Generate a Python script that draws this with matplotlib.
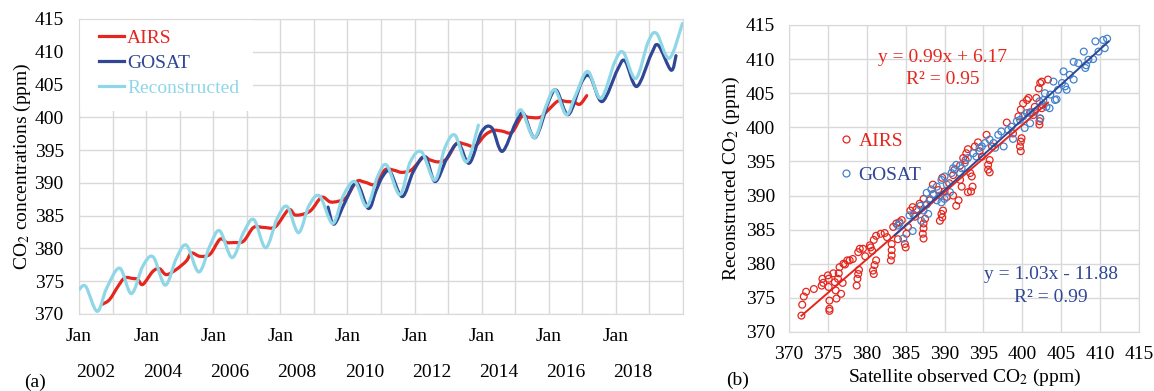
import numpy as np
import matplotlib
matplotlib.use('Agg')
import matplotlib.pyplot as plt
from matplotlib.path import Path
from matplotlib.patches import PathPatch, Rectangle
from matplotlib.lines import Line2D

plt.rcParams['font.family'] = ['Liberation Serif', 'DejaVu Serif']
plt.rcParams['mathtext.fontset'] = 'stix'

RED = '#e4261e'
NAVY = '#2f4794'
CYAN = '#8fd7e7'
LBLUE = '#4382cc'
GRID = '#d9d9d9'
FS = 14

# === time series (decimal year, ppm) ===
airs_t = [2002.70, 2002.91, 2003.16, 2003.36, 2003.61, 2003.75, 2003.90, 2004.20, 2004.40, 2004.60,
          2004.90, 2005.20, 2005.35, 2005.60, 2005.90, 2006.20, 2006.40, 2006.60, 2006.90, 2007.20,
          2007.50, 2007.85, 2008.24, 2008.44, 2008.73, 2008.93, 2009.23, 2009.48, 2009.73, 2009.97,
          2010.27, 2010.52, 2010.82, 2011.12, 2011.40, 2011.62, 2011.91, 2012.26, 2012.46, 2012.71,
          2012.96, 2013.25, 2013.50, 2013.80, 2014.10, 2014.35, 2014.60, 2014.90, 2015.19, 2015.40,
          2015.74, 2015.98, 2016.28, 2016.53, 2016.75, 2016.93, 2017.13]
airs_v = [371.5, 372.2, 374.2, 375.5, 375.4, 375.3, 374.5, 376.5, 376.9, 376.0,
          376.8, 378.1, 379.3, 378.8, 379.1, 381.4, 380.9, 380.9, 381.1, 383.2,
          383.2, 383.3, 385.9, 385.1, 385.3, 385.9, 387.8, 387.1, 387.2, 387.8,
          390.2, 390.1, 389.8, 392.0, 391.9, 391.6, 392.0, 393.9, 393.5, 393.2,
          393.7, 396.0, 395.9, 395.6, 397.3, 398.0, 397.9, 397.7, 400.1, 400.0,
          400.0, 401.1, 402.5, 402.4, 402.3, 402.0, 403.3]

gosat_t = [2009.42, 2009.60, 2009.93, 2010.27, 2010.62, 2010.85, 2011.05, 2011.27, 2011.63, 2011.96,
           2012.31, 2012.61, 2012.96, 2013.30, 2013.63, 2014.00, 2014.30, 2014.61, 2015.00, 2015.24,
           2015.59, 2016.00, 2016.23, 2016.58, 2016.98, 2017.23, 2017.59, 2018.05, 2018.27, 2018.62,
           2019.05, 2019.26, 2019.64, 2019.79]
gosat_v = [386.3, 383.7, 387.1, 390.0, 386.1, 388.8, 391.0, 391.7, 387.9, 391.7,
           394.0, 390.2, 393.7, 396.0, 393.0, 397.8, 398.4, 394.8, 399.0, 400.6,
           396.9, 402.5, 404.1, 400.4, 405.4, 406.2, 402.4, 407.3, 408.6, 404.7,
           409.6, 411.0, 407.2, 409.4]

# NaN marks the break in the reconstruction around 2014
recon_t = [2002.00, 2002.20, 2002.54, 2002.82, 2003.21, 2003.56, 2003.90, 2004.21, 2004.57, 2004.90,
           2005.20, 2005.57, 2005.90, 2006.19, 2006.56, 2006.90, 2007.21, 2007.56, 2007.90, 2008.20,
           2008.54, 2008.85, 2009.17, 2009.56, 2009.87, 2010.22, 2010.57, 2010.90, 2011.17, 2011.56,
           2011.87, 2012.21, 2012.60, 2012.90, 2013.20, 2013.55, 2013.90, np.nan,
           2015.04, 2015.20, 2015.57, 2015.90, 2016.18, 2016.52, 2016.80, 2017.16, 2017.55, 2017.97,
           2018.22, 2018.59, 2018.96, 2019.21, 2019.59, 2019.98]
recon_v = [373.7, 374.2, 370.4, 373.9, 377.0, 373.1, 377.3, 378.7, 374.4, 378.5,
           380.5, 376.4, 380.4, 382.7, 378.6, 382.4, 384.4, 380.1, 384.5, 386.4,
           382.4, 386.5, 388.0, 383.8, 388.0, 390.2, 386.4, 391.0, 392.7, 388.2,
           393.2, 394.7, 390.4, 395.3, 397.3, 393.2, 398.8, np.nan,
           400.3, 401.0, 396.9, 401.5, 404.2, 400.4, 403.4, 407.0, 402.9, 408.5,
           409.9, 405.9, 411.5, 412.8, 409.0, 414.3]

# === scatter: satellite observed vs reconstructed (ppm) ===
airs_obs = [371.6, 371.7, 371.9, 372.2, 373.2, 374.2, 374.3, 374.4, 375.0, 375.1, 375.1, 375.2, 375.2, 375.2,
            375.7, 375.9, 376.0, 376.1, 376.3, 376.4, 376.5, 376.7, 376.9, 377.0, 377.5, 377.8, 378.2,
            378.7, 378.8, 378.9, 379.0, 378.9, 379.1, 379.5, 380.4, 380.5, 380.7, 380.8, 380.9, 381.0,
            381.2, 380.9, 381.2, 381.8, 382.3, 383.1, 383.2, 383.2, 383.2, 383.4, 383.8, 384.2, 384.9,
            385.0, 385.1, 385.3, 385.6, 385.9, 386.4, 387.2, 387.3, 387.3, 387.3, 387.5, 387.7, 388.1,
            389.4, 389.6, 389.7, 389.8, 390.3, 391.1, 391.5, 391.8, 393.0, 387.3, 388.5, 389.7, 390.0,
            391.1, 391.3, 392.0, 392.2, 392.0, 392.4, 392.7, 392.8, 393.0, 393.3, 393.5, 393.6, 393.4,
            393.9, 394.3, 394.5, 394.8, 395.4, 395.6, 395.6, 395.8, 395.8, 396.1, 398.0, 398.8, 399.7,
            399.8, 399.9, 399.8, 399.5, 399.8, 400.1, 400.6, 400.8, 401.0, 401.4, 401.6, 401.8, 402.1,
            402.3, 402.5, 402.2, 402.2, 402.3, 402.5, 402.6, 403.3, 384.5, 386.2, 386.8, 388.6, 389.2,
            390.6, 384.0, 382.6, 379.8, 377.2]
airs_rec = [372.4, 374.0, 375.2, 375.9, 376.3, 376.8, 377.8, 377.2, 378.3, 377.8, 376.6, 374.6, 373.4, 373.1,
            378.6, 377.3, 376.1, 374.9, 377.8, 378.6, 379.5, 375.6, 377.2, 380.0, 380.5, 380.5, 380.7,
            376.8, 377.8, 378.5, 379.1, 381.7, 382.2, 382.2, 382.7, 382.4, 381.9, 379.0, 378.5, 379.8,
            380.5, 383.5, 384.1, 384.4, 384.5, 380.5, 381.2, 382.0, 382.9, 385.4, 385.9, 386.1, 382.9,
            382.4, 384.4, 385.4, 387.8, 388.3, 388.0, 384.4, 383.7, 385.2, 385.9, 386.6, 388.7, 389.3,
            386.3, 387.3, 386.8, 387.8, 389.8, 390.0, 388.5, 389.3, 390.5, 389.5, 391.6, 392.6, 390.6,
            393.0, 393.8, 392.3, 391.3, 394.4, 395.5, 395.2, 396.2, 396.8, 393.3, 392.8, 391.3, 390.6,
            397.2, 397.8, 396.5, 395.7, 398.9, 394.5, 393.8, 393.4, 395.2, 397.2, 400.7, 399.1, 397.2,
            397.9, 398.4, 396.5, 401.6, 402.6, 403.5, 404.0, 404.3, 402.2, 401.8, 403.0, 404.3, 405.7,
            406.5, 406.7, 400.4, 400.9, 401.3, 402.8, 403.3, 407.0, 386.4, 386.9, 388.8, 390.2, 390.8,
            391.8, 383.6, 383.9, 381.1, 379.9]

gosat_obs = [384.0, 384.2, 384.7, 385.9, 385.5, 386.0, 386.9, 387.0, 387.3, 387.7, 387.9, 388.1, 388.5,
             389.0, 389.4, 389.6, 390.0, 390.7, 387.7, 388.3, 389.0, 389.6, 390.0, 390.3, 390.9, 391.1,
             391.5, 392.0, 392.2, 392.6, 393.0, 393.7, 394.1, 394.5, 394.8, 395.2, 395.8, 396.3, 396.5,
             396.9, 397.3, 397.6, 398.2, 398.6, 398.8, 399.3, 399.7, 400.1, 400.3, 400.6, 401.0, 401.1,
             401.6, 402.3, 402.2, 402.7, 402.9, 403.1, 403.5, 403.6, 404.0, 404.2, 404.4, 404.6, 405.1,
             405.3, 405.5, 405.7, 406.1, 406.6, 406.6, 407.2, 407.9, 408.1, 408.2, 408.5, 409.1, 409.4,
             409.8, 410.4, 410.9, 410.6]
gosat_rec = [385.6, 385.9, 383.7, 384.8, 387.1, 387.2, 388.5, 386.3, 387.8, 388.7, 387.3, 389.5, 390.2,
             389.3, 390.0, 389.0, 389.5, 390.5, 390.4, 390.9, 391.3, 392.3, 392.8, 391.6, 393.3, 394.0,
             394.5, 393.3, 394.0, 394.8, 395.5, 396.2, 395.7, 397.0, 397.2, 397.7, 398.2, 397.7, 397.0,
             398.9, 399.4, 397.2, 399.6, 400.1, 398.3, 400.9, 401.1, 401.6, 399.9, 402.1, 400.6, 402.1,
             402.3, 401.3, 403.8, 404.0, 405.0, 403.0, 402.8, 404.8, 406.7, 404.0, 404.1, 405.5, 406.5,
             408.2, 406.0, 405.5, 407.7, 407.0, 409.6, 409.4, 411.1, 408.7, 409.1, 409.9, 410.0, 412.6,
             411.1, 412.8, 413.0, 411.6]

# linear fits as reported (slope, intercept, R^2)
fit_airs = (0.9855, 6.17, 0.95)
fit_gosat = (1.0325, -11.88, 0.99)
airs_range = (371.6, 403.3)
gosat_range = (383.6, 411.1)


def smooth_path(t, v):
    """Cubic Bezier path through the points, broken at NaNs."""
    t = np.asarray(t, float)
    v = np.asarray(v, float)
    verts, codes = [], []
    breaks = np.where(np.isnan(t))[0]
    for seg in np.split(np.arange(len(t)), breaks):
        seg = seg[~np.isnan(t[seg])]
        p = np.column_stack([t[seg], v[seg]])
        n = len(p)
        verts.append(p[0]); codes.append(Path.MOVETO)
        for i in range(n - 1):
            p0 = p[i - 1] if i > 0 else p[i]
            p3 = p[i + 2] if i + 2 < n else p[i + 1]
            c1 = p[i] + (p[i + 1] - p0) / 6.0
            c2 = p[i + 1] - (p3 - p[i]) / 6.0
            verts += [c1, c2, p[i + 1]]
            codes += [Path.CURVE4] * 3
    return Path(verts, codes)


fig = plt.figure(figsize=(11.54, 3.91), dpi=100)

# === (a) time series ===
ax = fig.add_axes([0.0685, 0.197, 0.5234, 0.7545])
for t, v, c in [(airs_t, airs_v, RED), (gosat_t, gosat_v, NAVY), (recon_t, recon_v, CYAN)]:
    ax.add_patch(PathPatch(smooth_path(t, v), fill=False, edgecolor=c, lw=2.3,
                           capstyle='round', joinstyle='round', zorder=3))
ax.set_xlim(2002, 2020)
ax.set_ylim(370, 415)
ax.set_xticks(np.arange(2002, 2021))
ax.set_xticklabels([])
ax.set_yticks(np.arange(370, 416, 5))
ax.tick_params(length=0, labelsize=FS, pad=11)
ax.grid(True, color=GRID, lw=1)
ax.set_axisbelow(True)
for s in ax.spines.values():
    s.set_color(GRID)
for yr in range(2002, 2020, 2):
    ax.text(yr, -0.078, 'Jan', transform=ax.get_xaxis_transform(), ha='center', va='center', fontsize=FS)
    ax.text(yr + 0.5, -0.197, str(yr), transform=ax.get_xaxis_transform(), ha='center', va='center', fontsize=FS)
ax.set_ylabel('CO$_2$ concentrations (ppm)', fontsize=FS, labelpad=1)

# white block behind the legend hides the grid there
ax.add_patch(Rectangle((0, 0.688), 0.288, 0.312, transform=ax.transAxes,
                       facecolor='white', edgecolor='none', zorder=1.5))
handles = [Line2D([], [], color=RED, lw=2.3), Line2D([], [], color=NAVY, lw=2.3), Line2D([], [], color=CYAN, lw=2.3)]
leg = ax.legend(handles, ['AIRS', 'GOSAT', 'Reconstructed'], loc='upper left', bbox_to_anchor=(0.033, 0.965),
                borderaxespad=0, borderpad=0, frameon=False,
                fontsize=FS, handlelength=1.3, handletextpad=0.15, labelspacing=0.38,
                labelcolor='linecolor')

fig.text(35 / 1154, 1 - 382 / 391, '(a)', fontsize=FS, ha='center', va='center')

# === (b) scatter ===
bx = fig.add_axes([0.6837, 0.1509, 0.3033, 0.7852])
bx.scatter(airs_obs, airs_rec, s=24, facecolors='none', edgecolors=RED, linewidths=0.9, zorder=3)
bx.scatter(gosat_obs, gosat_rec, s=24, facecolors='none', edgecolors=LBLUE, linewidths=0.9, zorder=3)
xa = np.array(airs_range)
bx.plot(xa, fit_airs[0] * xa + fit_airs[1], color=RED, lw=1.4, zorder=4)
xg = np.array(gosat_range)
bx.plot(xg, fit_gosat[0] * xg + fit_gosat[1], color=NAVY, lw=1.4, zorder=4)

bx.text(389.8, 410.3, f'y = {fit_airs[0]:.2f}x + {fit_airs[1]:.2f}', color=RED, fontsize=FS, ha='center', va='center')
bx.text(389.8, 407.0, f'R² = {fit_airs[2]:.2f}', color=RED, fontsize=FS, ha='center', va='center')
bx.text(403.7, 378.5, f'y = {fit_gosat[0]:.2f}x - {abs(fit_gosat[1]):.2f}', color=NAVY, fontsize=FS, ha='center', va='center')
bx.text(403.7, 375.0, f'R² = {fit_gosat[2]:.2f}', color=NAVY, fontsize=FS, ha='center', va='center')

bx.set_xlim(370, 415)
bx.set_ylim(370, 415)
bx.set_xticks(np.arange(370, 416, 5))
bx.set_yticks(np.arange(370, 416, 5))
bx.tick_params(length=0, labelsize=FS, pad=10)
bx.grid(True, color=GRID, lw=1)
bx.set_axisbelow(True)
for s in bx.spines.values():
    s.set_color(GRID)
bx.set_xlabel('Satellite observed CO$_2$ (ppm)', fontsize=FS, labelpad=3)
bx.set_ylabel('Reconstructed CO$_2$ (ppm)', fontsize=FS, labelpad=3)

shandles = [Line2D([], [], ls='none', marker='o', ms=5, mfc='none', mec=RED, mew=0.9),
            Line2D([], [], ls='none', marker='o', ms=5, mfc='none', mec=LBLUE, mew=0.9)]
sleg = bx.legend(shandles, ['AIRS', 'GOSAT'], loc='upper left', bbox_to_anchor=(0.143, 0.651),
                 frameon=False, fontsize=FS, handlelength=0.75, handletextpad=0.25, labelspacing=0.85,
                 borderaxespad=0, borderpad=0)
sleg.get_texts()[0].set_color(RED)
sleg.get_texts()[1].set_color(NAVY)

fig.text(738 / 1154, 1 - 380 / 391, '(b)', fontsize=FS, ha='center', va='center')

fig.savefig('out.png', dpi=100)
